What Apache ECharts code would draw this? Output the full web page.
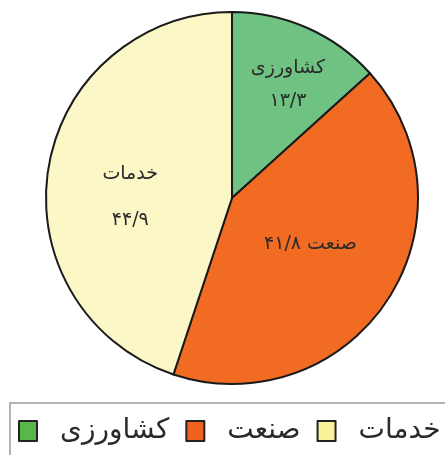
<!DOCTYPE html>
<html>
<head>
<meta charset="utf-8">
<script src="https://cdn.jsdelivr.net/npm/echarts@6/dist/echarts.min.js"></script>
<style>
html,body{margin:0;padding:0;background:#fff;}
#chart{width:445px;height:455px;}
</style>
</head>
<body>
<div id="chart"></div>
<script>
const categories = ['کشاورزی', 'صنعت', 'خدمات'];
const values = [13.3, 41.8, 44.9];
const legendOrder = ['کشاورزی', 'صنعت', 'خدمات'];

const sliceColors = ['#6fc282', '#f26b22', '#fcf7c6'];
const legendColors = ['#56b848', '#f0621e', '#fbf39a'];
const labelOffsets = [[17, -26], [-2, -6], [-7, 14]];
const labelModes = ['two', 'one', 'twoWide'];

function toPersian(v) {
  const d = '۰۱۲۳۴۵۶۷۸۹';
  return String(v).replace('.', '/').replace(/[0-9]/g, c => d[+c]);
}

const chart = echarts.init(document.getElementById('chart'));
const data = categories.map((name, i) => ({
  name: name,
  value: values[i],
  itemStyle: { color: sliceColors[i] },
  label: {
    offset: labelOffsets[i],
    formatter: p => {
      const n = toPersian(p.value);
      if (labelModes[i] === 'one') return '{t|' + p.name + ' ' + n + '}';
      if (labelModes[i] === 'twoWide') return '{w|' + p.name + '}\n{w|' + n + '}';
      return '{t|' + p.name + '}\n{t|' + n + '}';
    }
  }
}));

chart.setOption({
  animation: false,
  backgroundColor: '#ffffff',
  legend: {
    left: 10,
    top: 403,
    width: 600,
    orient: 'horizontal',
    data: legendOrder.map((n, i) => ({
      name: n,
      itemStyle: { color: legendColors[i], borderColor: '#222', borderWidth: 2 }
    })),
    icon: 'rect',
    itemWidth: 18,
    itemHeight: 20,
    itemGap: 16,
    borderColor: '#9a9a9a',
    borderWidth: 1.5,
    padding: [14, 40, 20, 8],
    textStyle: {
      fontFamily: 'DejaVu Sans',
      fontSize: 28,
      color: '#2a2a2a',
      padding: [0, 0, 0, 18]
    }
  },
  series: [{
    type: 'pie',
    center: [232, 198],
    radius: 186,
    startAngle: 90,
    clockwise: true,
    data: data,
    itemStyle: { borderColor: '#1a1a1a', borderWidth: 2 },
    label: {
      position: 'inside',
      fontFamily: 'DejaVu Sans',
      color: '#2a2a2a',
      rich: {
        t: { fontFamily: 'DejaVu Sans', fontSize: 19, color: '#2a2a2a', lineHeight: 33, align: 'center' },
        w: { fontFamily: 'DejaVu Sans', fontSize: 19, color: '#2a2a2a', lineHeight: 46, align: 'center' }
      }
    },
    labelLine: { show: false },
    emphasis: { disabled: true }
  }]
});
</script>
</body>
</html>
